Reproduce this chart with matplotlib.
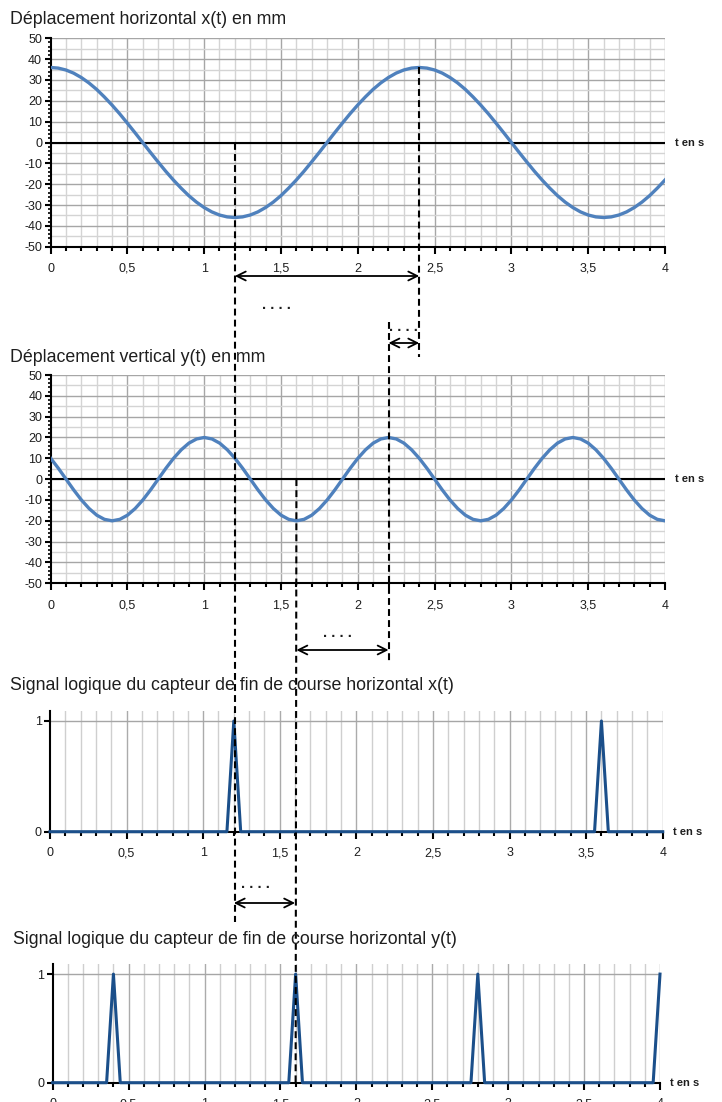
import matplotlib
matplotlib.use("Agg")
import matplotlib.pyplot as plt
from matplotlib.ticker import MultipleLocator, FixedLocator, FixedFormatter
from matplotlib.patches import FancyArrowPatch
from matplotlib.lines import Line2D

plt.rcParams['font.family'] = ['Liberation Sans', 'DejaVu Sans']

# ---------------- data ----------------
t_x = [i / 20 for i in range(81)]
x_mm = [36, 35.7, 34.8, 33.3, 31.2, 28.6, 25.5, 21.9, 18, 13.8, 9.3, 4.7, 0,
        -4.7, -9.3, -13.8, -18, -21.9, -25.5, -28.6, -31.2, -33.3, -34.8, -35.7, -36,
        -35.7, -34.8, -33.3, -31.2, -28.6, -25.5, -21.9, -18, -13.8, -9.3, -4.7, 0,
        4.7, 9.3, 13.8, 18, 21.9, 25.5, 28.6, 31.2, 33.3, 34.8, 35.7, 36,
        35.7, 34.8, 33.3, 31.2, 28.6, 25.5, 21.9, 18, 13.8, 9.3, 4.7, 0,
        -4.7, -9.3, -13.8, -18, -21.9, -25.5, -28.6, -31.2, -33.3, -34.8, -35.7, -36,
        -35.7, -34.8, -33.3, -31.2, -28.6, -25.5, -21.9, -18]

t_y = [i / 20 for i in range(81)]
y_mm = [10, 5.2, 0, -5.2, -10, -14.1, -17.3, -19.3, -20,
        -19.3, -17.3, -14.1, -10, -5.2, 0, 5.2, 10, 14.1, 17.3, 19.3, 20,
        19.3, 17.3, 14.1, 10, 5.2, 0, -5.2, -10, -14.1, -17.3, -19.3, -20,
        -19.3, -17.3, -14.1, -10, -5.2, 0, 5.2, 10, 14.1, 17.3, 19.3, 20,
        19.3, 17.3, 14.1, 10, 5.2, 0, -5.2, -10, -14.1, -17.3, -19.3, -20,
        -19.3, -17.3, -14.1, -10, -5.2, 0, 5.2, 10, 14.1, 17.3, 19.3, 20,
        19.3, 17.3, 14.1, 10, 5.2, 0, -5.2, -10, -14.1, -17.3, -19.3, -20]

t_sx = [0, 1.155, 1.2, 1.245, 3.555, 3.6, 3.645, 4.0]
s_x = [0, 0, 1, 0, 0, 1, 0, 0]

t_sy = [0, 0.355, 0.4, 0.445, 1.555, 1.6, 1.645, 2.755, 2.8, 2.845, 3.955, 4.0]
s_y = [0, 0, 1, 0, 0, 1, 0, 0, 1, 0, 0, 1]

x_ticks = [0, 0.5, 1, 1.5, 2, 2.5, 3, 3.5, 4]
x_tick_labels = ['0', '0,5', '1', '1,5', '2', '2,5', '3', '3,5', '4']
mm_ticks = [50, 40, 30, 20, 10, 0, -10, -20, -30, -40, -50]
mm_tick_labels = ['50', '40', '30', '20', '10', '0', '-10', '-20', '-30', '-40', '-50']

titles = ['Déplacement horizontal x(t) en mm',
          'Déplacement vertical y(t) en mm',
          'Signal logique du capteur de fin de course horizontal x(t)',
          'Signal logique du capteur de fin de course horizontal y(t)']
axis_label = 't en s'
gap_label = '. . . .'

# ---------------- layout ----------------
W, H = 722, 1102
fig = plt.figure(figsize=(W / 100, H / 100), dpi=100)


def add_ax(left, right, top, bottom):
    return fig.add_axes([left / W, 1 - bottom / H, (right - left) / W, (bottom - top) / H])


ax1 = add_ax(50.5, 665, 38.3, 246.7)
ax2 = add_ax(50.7, 665, 375, 583.3)
ax3 = add_ax(50, 662.7, 710.7, 831.7)
ax4 = add_ax(52.7, 660, 964, 1082.7)

TXT = '#1e1e1e'
SINE = '#4f81bd'
SIG = '#1b4f8a'


def style_common(ax, pad):
    ax.set_xlim(0, 4)
    ax.set_facecolor('white')
    for s in ['top', 'right']:
        ax.spines[s].set_visible(False)
    ax.spines['left'].set_color('black')
    ax.spines['left'].set_linewidth(1.5)
    ax.spines['bottom'].set_color('black')
    ax.spines['bottom'].set_linewidth(1.5)
    ax.xaxis.set_major_locator(FixedLocator(x_ticks))
    ax.xaxis.set_major_formatter(FixedFormatter(x_tick_labels))
    ax.xaxis.set_minor_locator(MultipleLocator(0.1))
    ax.tick_params(axis='both', which='major', colors='black', labelcolor=TXT,
                   labelsize=9, direction='out', width=1.5)
    ax.tick_params(axis='x', which='major', length=5, pad=pad)
    ax.tick_params(axis='x', which='minor', length=3, width=1.5, direction='out')
    for tk in ax.xaxis.get_major_ticks():
        tk.label1.set_verticalalignment('baseline')
    ax.set_axisbelow(True)


for ax, t, v in [(ax1, t_x, x_mm), (ax2, t_y, y_mm)]:
    style_common(ax, 13.2)
    ax.set_ylim(-50, 50)
    ax.yaxis.set_major_locator(FixedLocator(mm_ticks))
    ax.yaxis.set_major_formatter(FixedFormatter(mm_tick_labels))
    ax.yaxis.set_minor_locator(MultipleLocator(2))
    ax.tick_params(axis='y', which='major', length=4, pad=2)
    ax.tick_params(axis='y', which='minor', length=2.5, width=1.2)
    for gx in [i / 10 for i in range(1, 41)]:
        c = '#a6a6a6' if abs(gx * 2 - round(gx * 2)) < 1e-9 else '#d4d4d4'
        ax.axvline(gx, color=c, lw=1.0, zorder=0)
    for gy in range(-45, 51, 5):
        c = '#a6a6a6' if gy % 10 == 0 else '#d4d4d4'
        ax.axhline(gy, color=c, lw=1.0, zorder=0)
    ax.axhline(0, color='black', lw=1.5, zorder=1)
    ax.plot(t, v, color=SINE, lw=2.4, zorder=3, solid_joinstyle='round')
    ax.text(1.017, 0.5, axis_label, transform=ax.transAxes, fontsize=8,
            fontweight='bold', color=TXT, va='center', ha='left')

for ax, t, v in [(ax3, t_sx, s_x), (ax4, t_sy, s_y)]:
    style_common(ax, 12.5)
    ax.set_ylim(0, 1.093)
    ax.yaxis.set_major_locator(FixedLocator([0, 1]))
    ax.yaxis.set_major_formatter(FixedFormatter(['0', '1']))
    ax.tick_params(axis='y', which='major', length=4, pad=2)
    for gx in [i / 10 for i in range(1, 41)]:
        c = '#ababab' if abs(gx * 2 - round(gx * 2)) < 1e-9 else '#cfcfcf'
        ax.axvline(gx, color=c, lw=1.0, zorder=0)
    ax.axhline(1, color='#a6a6a6', lw=1.0, zorder=0)
    ax.plot(t, v, color=SIG, lw=2.2, zorder=3, clip_on=False)
    ax.text(1.017, 0.0, axis_label, transform=ax.transAxes, fontsize=8,
            fontweight='bold', color=TXT, va='center', ha='left')

# titles
for (px, py), s in zip([(10, 20), (10, 357), (10, 685), (13, 940)], titles):
    fig.text(px / W, 1 - py / H, s, fontsize=12.8, color=TXT, ha='left', va='center')


# ---------------- construction lines ----------------
def fpt(ax, x, y):
    d = ax.transData.transform((x, y))
    return fig.transFigure.inverted().transform(d)


def fx(ax, x, py):
    d = ax.transData.transform((x, 0))
    fxv = fig.transFigure.inverted().transform(d)[0]
    return (fxv, 1 - py / H)


dash = (0, (3.3, 2.0))


def vline(p0, p1):
    fig.add_artist(Line2D([p0[0], p1[0]], [p0[1], p1[1]], transform=fig.transFigure,
                          color='black', lw=1.5, linestyle=dash))


vline(fpt(ax1, 1.2, 0), fx(ax1, 1.2, 922))
vline(fpt(ax1, 2.4, 36), fx(ax1, 2.4, 357))
vline(fx(ax2, 2.2, 322), fx(ax2, 2.2, 662))
vline(fpt(ax2, 1.6, 0), fpt(ax4, 1.6, 0))


def harrow(ax, xa, xb, py, label, label_py, label_x):
    a = fx(ax, xa, py)
    b = fx(ax, xb, py)
    fig.add_artist(FancyArrowPatch(a, b, transform=fig.transFigure, arrowstyle='<->',
                                   mutation_scale=16, lw=1.3, color='black',
                                   shrinkA=0, shrinkB=0))
    lx = fx(ax, label_x, label_py)
    fig.text(lx[0], lx[1], label, fontsize=10.5, fontweight='bold', color=TXT,
             ha='center', va='center')


harrow(ax1, 1.2, 2.4, 276, gap_label, 305, 1.47)
harrow(ax1, 2.2, 2.4, 343, gap_label, 327, 2.3)
harrow(ax2, 1.6, 2.2, 650, gap_label, 633, 1.87)
harrow(ax3, 1.2, 1.6, 903, gap_label, 884, 1.34)

fig.savefig('out.png', dpi=100, facecolor='white')
